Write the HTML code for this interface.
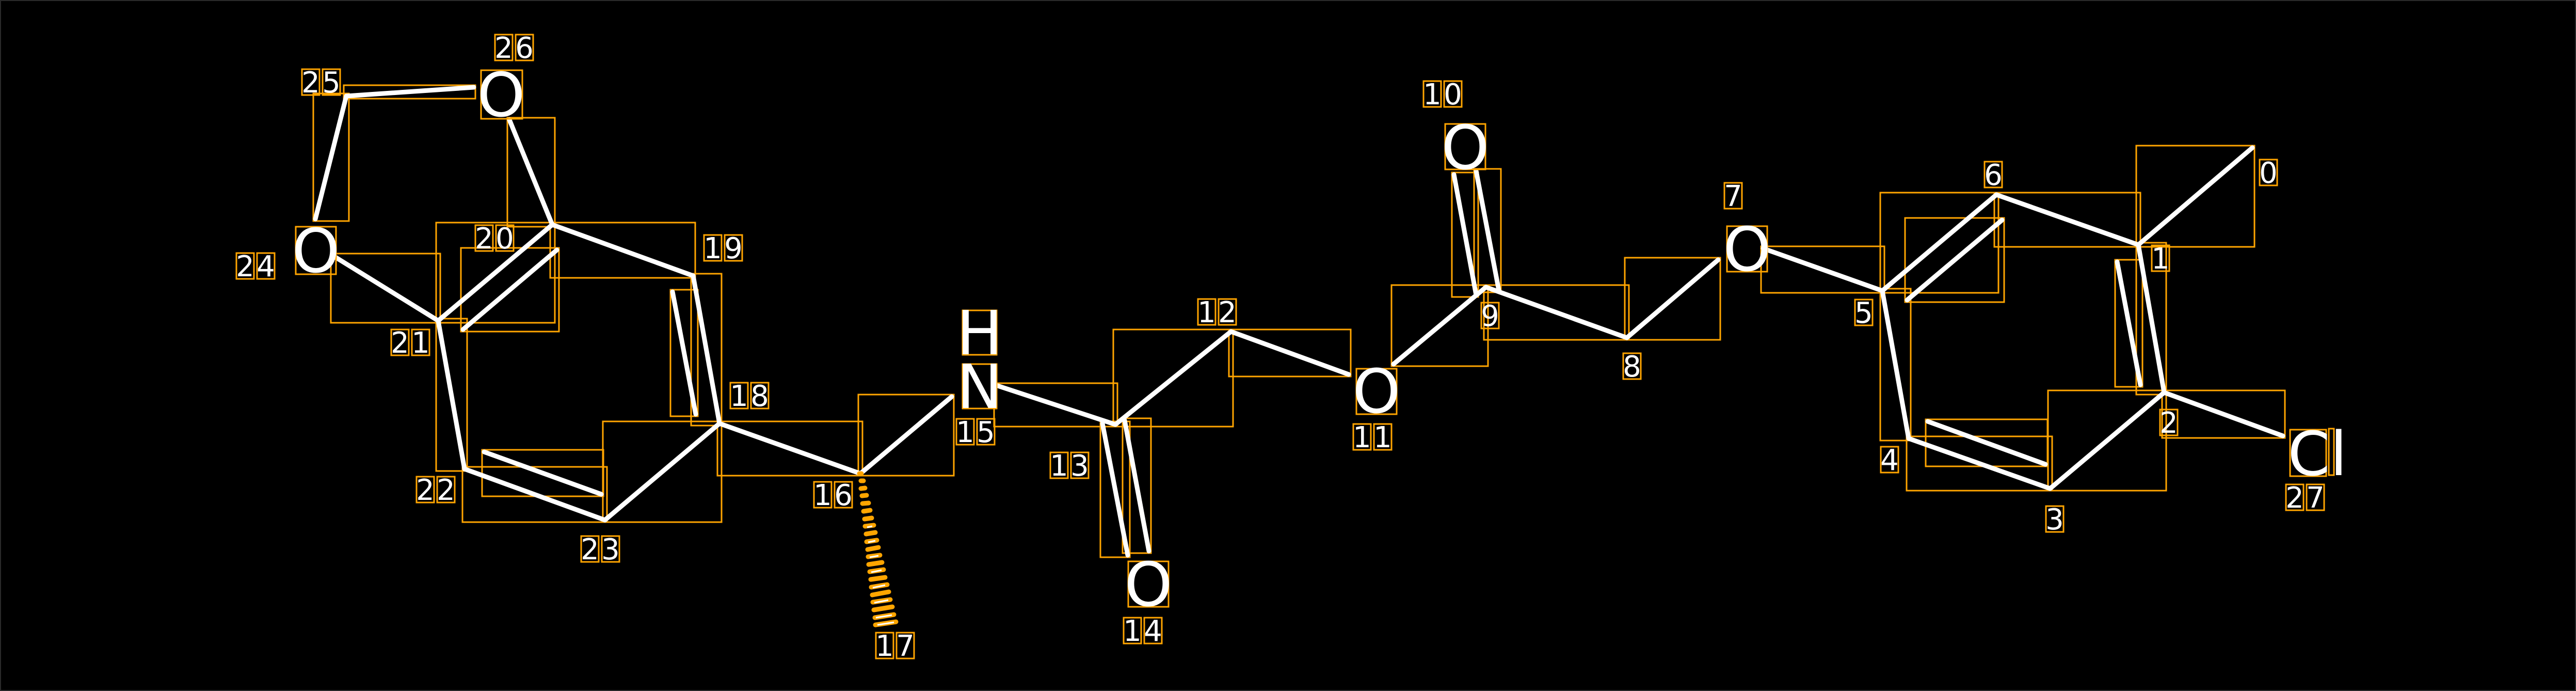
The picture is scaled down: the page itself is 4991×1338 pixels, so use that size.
<!DOCTYPE html>
<html><head><meta charset="utf-8"><style>
html,body{margin:0;padding:0;background:#000;}
svg{display:block;}
text{font-family:"DejaVu Sans","Liberation Sans",sans-serif;fill:#fff;}
</style></head><body>
<svg width="4991" height="1338" viewBox="0 0 4991 1338" xmlns="http://www.w3.org/2000/svg">
<rect x="0" y="0" width="4991" height="1338" fill="#000"/>
<rect x="1" y="1" width="4989" height="1336" fill="none" stroke="#2a2a2a" stroke-width="2"/>
<!-- bond bounding boxes -->
<g fill="none" stroke="#FFA500" stroke-width="3">
<rect x="666" y="165" width="255" height="26"/>
<rect x="607" y="181" width="69" height="247"/>
<rect x="641" y="491" width="212" height="134"/>
<rect x="983" y="228" width="92" height="211"/>
<rect x="845" y="431" width="230" height="194"/>
<rect x="893" y="480" width="190" height="162"/>
<rect x="1066" y="431" width="281" height="107"/>
<rect x="1339" y="530" width="59" height="294"/>
<rect x="1299" y="561" width="53" height="245"/>
<rect x="845" y="617" width="60" height="295"/>
<rect x="896" y="904" width="280" height="107"/>
<rect x="934" y="871" width="235" height="90"/>
<rect x="1168" y="816" width="230" height="195"/>
<rect x="1390" y="816" width="281" height="105"/>
<rect x="1663" y="764" width="185" height="157"/>
<rect x="1926" y="742" width="239" height="84"/>
<rect x="2157" y="638" width="232" height="188"/>
<rect x="2132" y="816" width="57" height="263"/>
<rect x="2175" y="810" width="55" height="261"/>
<rect x="2381" y="638" width="236" height="91"/>
<rect x="2696" y="552" width="187" height="157"/>
<rect x="2813" y="334" width="51" height="241"/>
<rect x="2856" y="327" width="52" height="239"/>
<rect x="2875" y="552" width="281" height="106"/>
<rect x="3148" y="499" width="185" height="159"/>
<rect x="3412" y="477" width="239" height="90"/>
<rect x="3643" y="373" width="229" height="194"/>
<rect x="3691" y="422" width="192" height="163"/>
<rect x="3864" y="373" width="283" height="105"/>
<rect x="4139" y="282" width="229" height="196"/>
<rect x="4139" y="470" width="58" height="294"/>
<rect x="4098" y="503" width="53" height="246"/>
<rect x="3968" y="756" width="229" height="194"/>
<rect x="3694" y="845" width="282" height="105"/>
<rect x="3731" y="812" width="236" height="91"/>
<rect x="3643" y="559" width="59" height="294"/>
<rect x="4189" y="756" width="238" height="92"/>
</g>
<!-- bonds -->
<g stroke="#fff" stroke-width="9" stroke-linecap="round">
<line x1="671" y1="186" x2="918" y2="169"/>
<line x1="671" y1="186" x2="611" y2="424"/>
<line x1="645" y1="495" x2="849" y2="621"/>
<line x1="987" y1="232" x2="1070" y2="435"/>
<line x1="1070" y1="435" x2="849" y2="621"/>
<line x1="1079" y1="484" x2="897" y2="638"/>
<line x1="1070" y1="435" x2="1343" y2="534"/>
<line x1="1343" y1="534" x2="1394" y2="820"/>
<line x1="1303" y1="565" x2="1348" y2="802"/>
<line x1="849" y1="621" x2="900" y2="908"/>
<line x1="900" y1="908" x2="1172" y2="1007"/>
<line x1="938" y1="875" x2="1165" y2="957"/>
<line x1="1172" y1="1007" x2="1394" y2="820"/>
<line x1="1394" y1="820" x2="1667" y2="917"/>
<line x1="1667" y1="917" x2="1844" y2="768"/>
<line x1="1930" y1="746" x2="2161" y2="822"/>
<line x1="2161" y1="822" x2="2385" y2="642"/>
<line x1="2136" y1="820" x2="2185" y2="1075"/>
<line x1="2179" y1="814" x2="2226" y2="1067"/>
<line x1="2385" y1="642" x2="2613" y2="725"/>
<line x1="2700" y1="705" x2="2879" y2="556"/>
<line x1="2817" y1="338" x2="2860" y2="571"/>
<line x1="2860" y1="331" x2="2904" y2="562"/>
<line x1="2879" y1="556" x2="3152" y2="654"/>
<line x1="3152" y1="654" x2="3329" y2="503"/>
<line x1="3416" y1="481" x2="3647" y2="563"/>
<line x1="3647" y1="563" x2="3868" y2="377"/>
<line x1="3695" y1="581" x2="3879" y2="426"/>
<line x1="3868" y1="377" x2="4143" y2="474"/>
<line x1="4143" y1="474" x2="4364" y2="286"/>
<line x1="4143" y1="474" x2="4193" y2="760"/>
<line x1="4102" y1="507" x2="4147" y2="745"/>
<line x1="4193" y1="760" x2="3972" y2="946"/>
<line x1="3972" y1="946" x2="3698" y2="849"/>
<line x1="3735" y1="816" x2="3963" y2="899"/>
<line x1="3698" y1="849" x2="3647" y2="563"/>
<line x1="4193" y1="760" x2="4423" y2="844"/>
</g>
<!-- hashed wedge 16-17 -->
<g stroke="#FFA500" stroke-width="9" stroke-linecap="round">
<line x1="1665" y1="917" x2="1669" y2="917"/>
<line x1="1668" y1="931" x2="1673" y2="931"/>
<line x1="1668" y1="946" x2="1676" y2="945"/>
<line x1="1670" y1="960" x2="1679" y2="959"/>
<line x1="1671" y1="975" x2="1683" y2="974"/>
<line x1="1673" y1="990" x2="1686" y2="988"/>
<line x1="1675" y1="1005" x2="1689" y2="1003"/>
<line x1="1676" y1="1019" x2="1693" y2="1017"/>
<line x1="1678" y1="1034" x2="1696" y2="1031"/>
<line x1="1679" y1="1049" x2="1699" y2="1046"/>
<line x1="1681" y1="1064" x2="1702" y2="1060"/>
<line x1="1682" y1="1078" x2="1705" y2="1075"/>
<line x1="1683" y1="1093" x2="1709" y2="1089"/>
<line x1="1685" y1="1107" x2="1712" y2="1103"/>
<line x1="1687" y1="1122" x2="1715" y2="1118"/>
<line x1="1688" y1="1137" x2="1719" y2="1132"/>
<line x1="1690" y1="1152" x2="1722" y2="1146"/>
<line x1="1691" y1="1166" x2="1725" y2="1161"/>
<line x1="1693" y1="1181" x2="1729" y2="1175"/>
<line x1="1695" y1="1196" x2="1732" y2="1190"/>
<line x1="1696" y1="1210" x2="1736" y2="1204"/>
</g>
<g stroke="#fff" stroke-width="3">
<line x1="1680" y1="1021" x2="1690" y2="1019"/>
<line x1="1682" y1="1050" x2="1696" y2="1047"/>
<line x1="1685" y1="1079" x2="1702" y2="1076"/>
<line x1="1688" y1="1108" x2="1708" y2="1104"/>
<line x1="1691" y1="1138" x2="1715" y2="1133"/>
<line x1="1694" y1="1167" x2="1721" y2="1162"/>
<line x1="1697" y1="1196" x2="1728" y2="1191"/>
<line x1="1700" y1="1210" x2="1732" y2="1205"/>
</g>
<!-- atom labels -->
<g fill="none" stroke="#FFA500" stroke-width="3">
<rect x="932" y="136" width="80" height="94"/>
<rect x="573" y="439" width="78" height="92"/>
<rect x="2628" y="714" width="78" height="88"/>
<rect x="2186" y="1087" width="78" height="88"/>
<rect x="2800" y="240" width="78" height="88"/>
<rect x="3346" y="438" width="78" height="88"/>
<rect x="1865" y="601" width="66" height="86"/>
<rect x="1865" y="705" width="66" height="86"/>
<rect x="4437" y="832" width="70" height="90"/>
<rect x="4512" y="830" width="10" height="90"/>
</g>
<g font-size="118" text-anchor="middle">
<text x="971" y="225">O</text>
<text x="612" y="527">O</text>
<text x="2667" y="799">O</text>
<text x="2225" y="1173">O</text>
<text x="2839" y="327">O</text>
<text x="3385" y="524">O</text>
<text x="1898" y="686">H</text>
<text x="1898" y="790">N</text>
<text x="4490" y="920">Cl</text>
</g>
<!-- index labels -->
<g fill="none" stroke="#FFA500" stroke-width="3">
<rect x="585" y="134" width="34" height="50"/><rect x="625" y="134" width="34" height="50"/>
<rect x="959" y="67" width="34" height="50"/><rect x="999" y="67" width="34" height="50"/>
<rect x="458" y="490" width="34" height="50"/><rect x="498" y="490" width="34" height="50"/>
<rect x="921" y="436" width="34" height="50"/><rect x="961" y="436" width="34" height="50"/>
<rect x="758" y="638" width="34" height="50"/><rect x="798" y="638" width="34" height="50"/>
<rect x="1364" y="455" width="34" height="50"/><rect x="1404" y="455" width="34" height="50"/>
<rect x="1415" y="741" width="34" height="50"/><rect x="1455" y="741" width="34" height="50"/>
<rect x="807" y="923" width="34" height="50"/><rect x="847" y="923" width="34" height="50"/>
<rect x="1126" y="1038" width="34" height="50"/><rect x="1166" y="1038" width="34" height="50"/>
<rect x="1577" y="933" width="34" height="50"/><rect x="1617" y="933" width="34" height="50"/>
<rect x="1853" y="811" width="34" height="50"/><rect x="1893" y="811" width="34" height="50"/>
<rect x="1697" y="1225" width="34" height="50"/><rect x="1737" y="1225" width="34" height="50"/>
<rect x="2035" y="876" width="34" height="50"/><rect x="2075" y="876" width="34" height="50"/>
<rect x="2321" y="579" width="34" height="50"/><rect x="2361" y="579" width="34" height="50"/>
<rect x="2622" y="821" width="34" height="50"/><rect x="2662" y="821" width="34" height="50"/>
<rect x="2177" y="1196" width="34" height="50"/><rect x="2217" y="1196" width="34" height="50"/>
<rect x="2758" y="157" width="34" height="50"/><rect x="2798" y="157" width="34" height="50"/>
<rect x="2870" y="586" width="34" height="50"/>
<rect x="3145" y="684" width="34" height="50"/>
<rect x="3341" y="354" width="34" height="50"/>
<rect x="3845" y="313" width="34" height="50"/>
<rect x="4378" y="309" width="34" height="50"/>
<rect x="4169" y="475" width="34" height="50"/>
<rect x="3594" y="580" width="34" height="50"/>
<rect x="3644" y="865" width="34" height="50"/>
<rect x="4185" y="793" width="34" height="50"/>
<rect x="3964" y="980" width="34" height="50"/>
<rect x="4429" y="938" width="34" height="50"/><rect x="4469" y="938" width="34" height="50"/>
</g>
<g font-size="56" text-anchor="middle">
<text x="602" y="179">2</text><text x="642" y="179">5</text>
<text x="976" y="112">2</text><text x="1016" y="112">6</text>
<text x="475" y="535">2</text><text x="515" y="535">4</text>
<text x="938" y="481">2</text><text x="978" y="481">0</text>
<text x="775" y="683">2</text><text x="815" y="683">1</text>
<text x="1381" y="500">1</text><text x="1421" y="500">9</text>
<text x="1432" y="786">1</text><text x="1472" y="786">8</text>
<text x="824" y="968">2</text><text x="864" y="968">2</text>
<text x="1143" y="1083">2</text><text x="1183" y="1083">3</text>
<text x="1594" y="978">1</text><text x="1634" y="978">6</text>
<text x="1870" y="856">1</text><text x="1910" y="856">5</text>
<text x="1714" y="1270">1</text><text x="1754" y="1270">7</text>
<text x="2052" y="921">1</text><text x="2092" y="921">3</text>
<text x="2338" y="624">1</text><text x="2378" y="624">2</text>
<text x="2639" y="866">1</text><text x="2679" y="866">1</text>
<text x="2194" y="1241">1</text><text x="2234" y="1241">4</text>
<text x="2775" y="202">1</text><text x="2815" y="202">0</text>
<text x="2887" y="631">9</text>
<text x="3162" y="729">8</text>
<text x="3358" y="399">7</text>
<text x="3862" y="358">6</text>
<text x="4395" y="354">0</text>
<text x="4186" y="520">1</text>
<text x="3611" y="625">5</text>
<text x="3661" y="910">4</text>
<text x="4202" y="838">2</text>
<text x="3981" y="1025">3</text>
<text x="4446" y="983">2</text><text x="4486" y="983">7</text>
</g>
</svg>
</body></html>
